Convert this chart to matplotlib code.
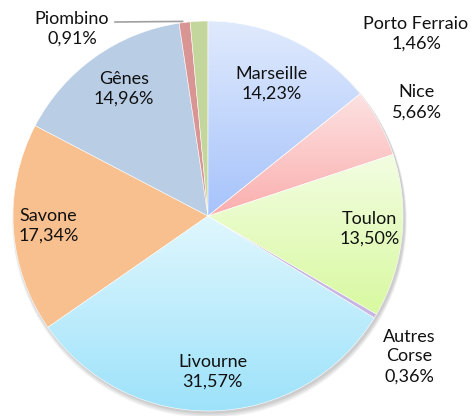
import numpy as np
import matplotlib.pyplot as plt
from matplotlib.colors import LinearSegmentedColormap

# Data
ports = ["Marseille", "Nice", "Toulon", "Autres\nCorse", "Livourne",
         "Savone", "Gênes", "Piombino", "Porto Ferraio"]
shares = [14.23, 5.66, 13.50, 0.36, 31.57, 17.34, 14.96, 0.91, 1.46]

# fills: (top colour, bottom colour) for a vertical gradient
fills = [("#e0eafd", "#a6c3fb"), ("#fde2e2", "#fbaeae"), ("#f3fde2", "#d8f9a0"),
         ("#c8b6e2", "#c8b6e2"), ("#e0f7fe", "#9de2fa"), ("#f9c08f", "#f9c08f"),
         ("#b9cde5", "#b9cde5"), ("#d99594", "#d99594"), ("#c3d69b", "#c3d69b")]

# label placement: (distance in radii, angle shift in deg) ; None -> placed by hand
label_pos = [(0.75, 0), (1.22, 0), (0.83, 1.5), (1.26, -4), (0.80, 0),
             (0.82, 0), (0.78, -2), None, None]

W, H = 472, 416
cx, cy, R = 208, H - 216, 195

fig = plt.figure(figsize=(W / 100, H / 100), dpi=100)
ax = fig.add_axes([0, 0, 1, 1])
ax.set_xlim(0, W)
ax.set_ylim(0, H)
ax.set_aspect("equal")
ax.axis("off")

# soft shadow under the pie
for i in range(4):
    ax.add_patch(plt.Circle((cx + 1.5, cy - 2 - i * 0.8), R + 0.5 + i * 0.6,
                            color="#000000", alpha=0.05, lw=0, zorder=0))

wedges, _ = ax.pie(shares, radius=R, center=(cx, cy), startangle=90,
                   counterclock=False, colors=[f[1] for f in fills],
                   wedgeprops=dict(edgecolor="white", linewidth=0.4), frame=True)
ax.set_xlim(0, W)
ax.set_ylim(0, H)
ax.axis("off")

for w, (top, bot) in zip(wedges, fills):
    if top == bot:
        continue
    cmap = LinearSegmentedColormap.from_list("g", [bot, top])
    ext = w.get_path().get_extents(w.get_patch_transform())
    grad = np.linspace(0, 1, 256).reshape(-1, 1)
    im = ax.imshow(grad, cmap=cmap, origin="lower", aspect="auto",
                   extent=[ext.x0, ext.x1, ext.y0, ext.y1], zorder=w.get_zorder())
    im.set_clip_path(w)
    w.set_facecolor("none")
    w.set_zorder(w.get_zorder() + 0.1)

font = dict(family="Lato", fontsize=13, color="#111111", ha="center", va="center",
            linespacing=1.3)

for w, name, val, pos in zip(wedges, ports, shares, label_pos):
    if pos is None:
        continue
    ang = np.deg2rad((w.theta1 + w.theta2) / 2 + pos[1])
    x = cx + pos[0] * R * np.cos(ang)
    y = cy + pos[0] * R * np.sin(ang)
    ax.text(x, y, f"{name}\n{val:.2f}%".replace(".", ","), **font)

# Piombino with leader line, Porto Ferraio off to the right
pw = wedges[7]
ang = np.deg2rad((pw.theta1 + pw.theta2) / 2)
px, py = cx + R * np.cos(ang), cy + R * np.sin(ang)
ax.plot([115, px - 2], [H - 22, py + 1], color="#a0a0a0", lw=1.2, zorder=5)
ax.text(72, H - 29, f"{ports[7]}\n{shares[7]:.2f}%".replace(".", ","), **font)
ax.text(416, H - 34, f"{ports[8]}\n{shares[8]:.2f}%".replace(".", ","), **font)

fig.savefig("out.png", dpi=100)
